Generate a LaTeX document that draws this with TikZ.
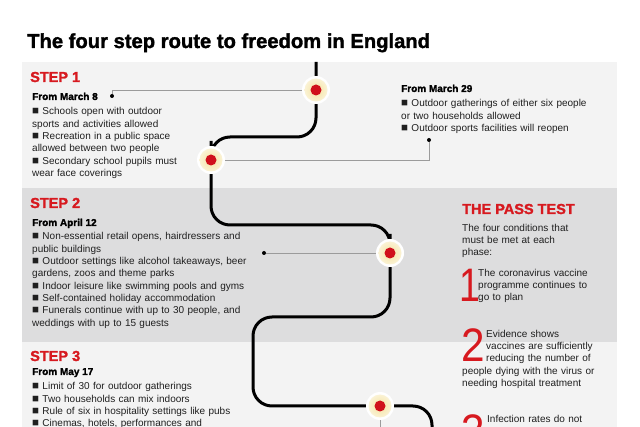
\documentclass[tikz,border=0pt]{standalone}
\usepackage{fontspec}
\setmainfont{Liberation Sans}
\newfontfamily\heavyfont{Liberation Sans}[BoldFeatures={FakeBold=1.6}]
\newcommand\sqbullet{{\fontsize{11.5}{12}\selectfont■}}
\definecolor{stepred}{HTML}{D7191F}
\definecolor{panelpale}{HTML}{F3F3F3}
\definecolor{paneldark}{HTML}{DDDDDE}
\definecolor{linkgrey}{HTML}{9B9B9B}
\definecolor{stopcream}{HTML}{F4E2A0}
\definecolor{stoprim}{HTML}{FCF6E0}
\definecolor{stopred}{HTML}{D0101C}
\begin{document}
\begin{tikzpicture}[x=1pt,y=-1pt,
    maintitle/.style = {anchor=base west,inner sep=0,font=\fontsize{20.2}{22}\selectfont\heavyfont\bfseries},
    steptitle/.style = {anchor=base west,inner sep=0,text=stepred,font=\fontsize{14.5}{16}\selectfont\heavyfont\bfseries},
    datehead/.style = {anchor=base west,inner sep=0,font=\fontsize{10}{12}\selectfont\heavyfont\bfseries},
    body/.style = {anchor=base west,inner sep=0,align=left,text width=#1,text=black!88,font=\fontsize{10}{12.3}\selectfont},
    passbody/.style = {anchor=base west,inner sep=0,align=left,text width=150pt,text=black!88,font=\fontsize{10}{11.9}\selectfont},
    bignum/.style = {anchor=base west,inner sep=0,text=stepred,font=\fontsize{47}{47}\selectfont},
    route/.style = {line width=3pt,rounded corners=19pt},
    link/.style = {draw=linkgrey,line width=0.8pt},
    pin/.style = {circle,fill=black,inner sep=0,minimum size=4pt},
    stop/.style = {circle,fill=white,inner sep=0,minimum size=28pt,
        path picture={\shade[inner color=stopcream,outer color=stoprim] (path picture bounding box.center) circle (11.5pt);
                      \fill[stopred] (path picture bounding box.center) circle (5.5pt);}}]
    \useasboundingbox (0,0) rectangle (640,427);
    \clip (0,0) rectangle (640,427);
    \fill[white] (0,0) rectangle (640,427);

    % panels
    \fill[panelpale] (22,62) rectangle (617,188);
    \fill[paneldark] (22,188) rectangle (617,342);
    \fill[panelpale] (22,342) rectangle (617,440);

    \node[maintitle] (title) at (27,48) {The four step route to freedom in England};

    % step 1
    \node[steptitle] (step1) at (30,82) {STEP 1};
    \node[datehead] (mar8) at (32,100) {From March 8};
    \node[body=200pt] (mar8list) at (32,115) {\sqbullet\ Schools open with outdoor\\sports and activities allowed\\\sqbullet\ Recreation in a public space\\allowed between two people\\\sqbullet\ Secondary school pupils must\\wear face coverings};

    \node[datehead] (mar29) at (401,92) {From March 29};
    \node[body=220pt] (mar29list) at (401,107) {\sqbullet\ Outdoor gatherings of either six people\\or two households allowed\\\sqbullet\ Outdoor sports facilities will reopen};

    % step 2
    \node[steptitle] (step2) at (30,208) {STEP 2};
    \node[datehead] (apr12) at (32,226) {From April 12};
    \node[body=230pt] (apr12list) at (32,240) {\sqbullet\ Non-essential retail opens, hairdressers and\\public buildings\\\sqbullet\ Outdoor settings like alcohol takeaways, beer\\gardens, zoos and theme parks\\\sqbullet\ Indoor leisure like swimming pools and gyms\\\sqbullet\ Self-contained holiday accommodation\\\sqbullet\ Funerals continue with up to 30 people, and\\weddings with up to 15 guests};

    % pass test
    \node[steptitle] (pass) at (462,214) {THE PASS TEST};
    \node[passbody] (passintro) at (462,232) {The four conditions that\\must be met at each\\phase:};
    \node[bignum] (num1) at (459,302) {\scalebox{0.8}[1]{1}};
    \node[passbody] (cond1) at (478,277) {The coronavirus vaccine\\programme continues to\\go to plan};
    \node[bignum] (num2) at (461,362) {\scalebox{0.9}[1]{2}};
    \node[passbody] (cond2a) at (486,338) {Evidence shows\\vaccines are sufficiently\\reducing the number of};
    \node[passbody] (cond2b) at (462,375) {people dying with the virus or\\needing hospital treatment};
    \node[bignum] (num3) at (461,447) {\scalebox{0.9}[1]{3}};
    \node[passbody] (cond3) at (487,423) {Infection rates do not};

    % step 3
    \node[steptitle] (step3) at (30,361) {STEP 3};
    \node[datehead] (may17) at (32,375) {From May 17};
    \node[body=230pt] (may17list) at (32,390) {\sqbullet\ Limit of 30 for outdoor gatherings\\\sqbullet\ Two households can mix indoors\\\sqbullet\ Rule of six in hospitality settings like pubs\\\sqbullet\ Cinemas, hotels, performances and};

    % the route
    \coordinate (s1) at (316,90);
    \coordinate (s2) at (211,160);
    \coordinate (s3) at (390,253);
    \coordinate (s4) at (380,406);
    \draw[route] (316,62) -- (s1) |- (211,137) -- (s2) |- (390,225) -- (s3) |- (253,317) |- (s4) -| (432,440);

    \node[stop] (stop1) at (s1) {};
    \node[stop] (stop2) at (s2) {};
    \node[stop] (stop3) at (s3) {};
    \node[stop] (stop4) at (s4) {};

    \node[pin] (pin1) at (112,96) {};
    \node[pin] (pin2) at (429,140) {};
    \node[pin] (pin3) at (264,253) {};
    \coordinate (tail4) at (380,440);

    \draw[link] (stop1) -| (pin1);
    \draw[link] (stop2) -| (pin2);
    \draw[link] (stop3) -- (pin3);
    \draw[link] (stop4) -- (tail4);
\end{tikzpicture}
\end{document}
